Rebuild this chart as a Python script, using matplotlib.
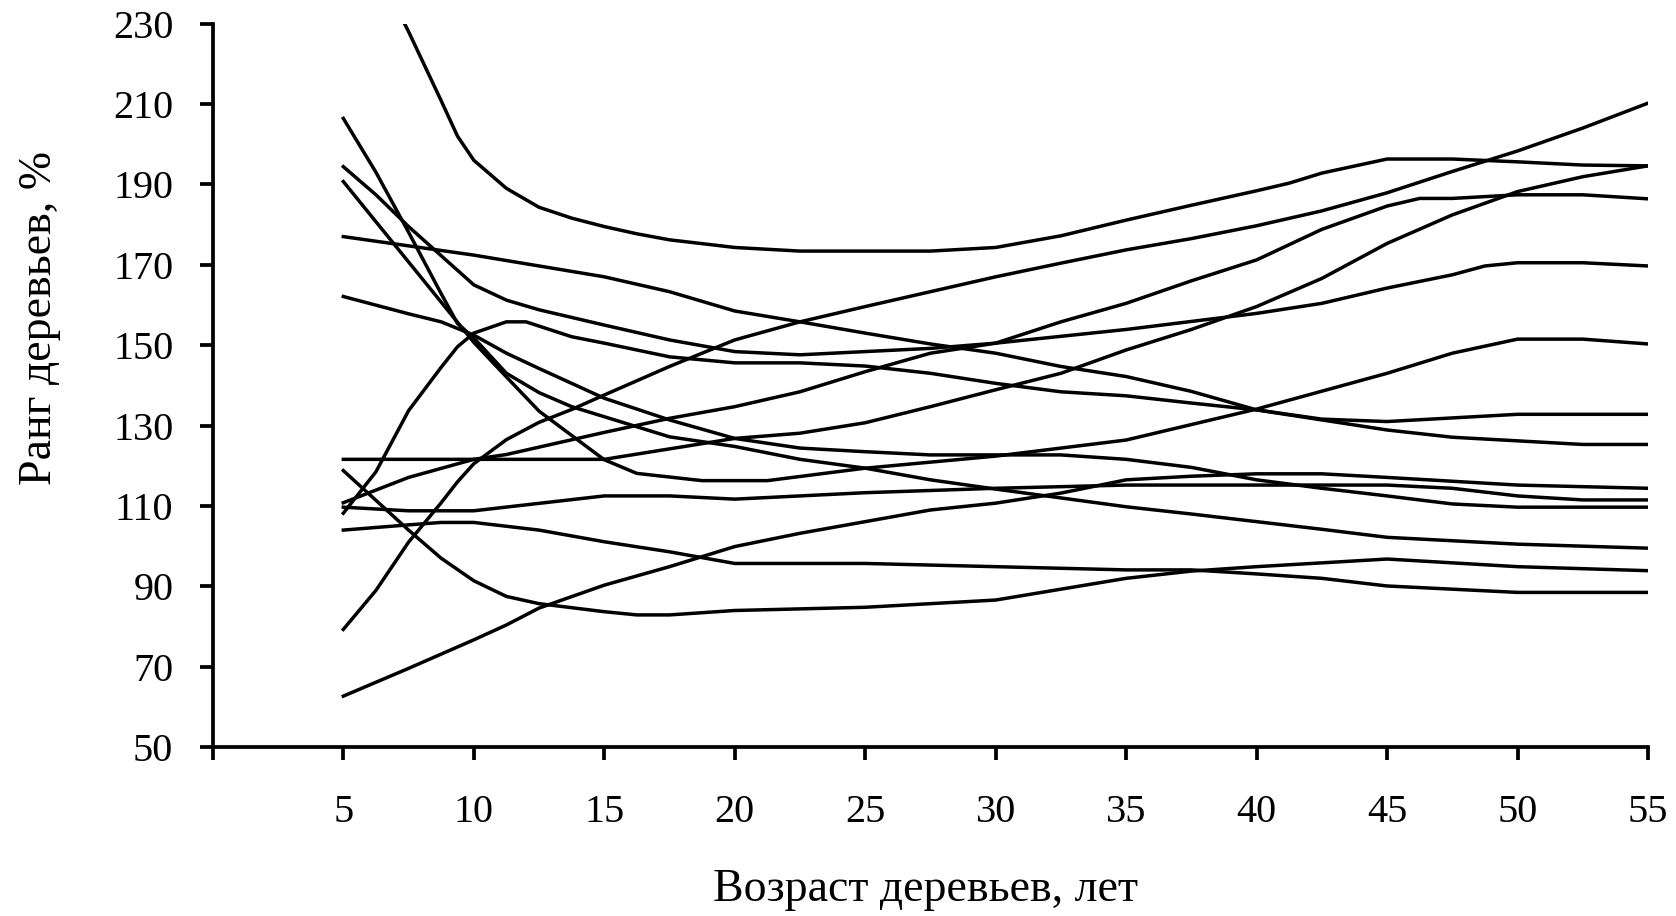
import matplotlib
matplotlib.use('Agg')
import matplotlib.pyplot as plt

plt.rcParams['font.family'] = ['Liberation Serif', 'DejaVu Serif']

# ages (years) and rank values (%) for each tree
t_x = [5, 6.25, 7.5, 8.75, 9.375, 10, 11.25, 12.5, 13.75, 15, 16.25, 17.5, 20, 22.5, 25, 27.5, 30,
       32.5, 35, 37.5, 40, 41.25, 42.5, 45, 47.5, 50, 52.5, 55]
t_y = [260, 244, 228, 210.8, 202, 196, 189, 184.3, 181.6, 179.5, 177.7, 176.2, 174.3, 173.4, 173.4,
       173.4, 174.3, 177.2, 181.1, 184.8, 188.4, 190.3, 192.8, 196.3, 196.3, 195.6, 194.8, 194.6]

a_x = [5, 6.25, 7.5, 8.75, 9.375, 10, 11.25, 12.5, 13.75, 15, 17.5, 20, 22.5, 25, 27.5, 30, 35,
       37.5, 40, 42.5, 45, 50, 55]
a_y = [206.4, 193.0, 178.1, 162.8, 155.4, 151.8, 143.0, 138.2, 134.7, 132.2, 127.2, 124.8, 121.6,
       119.4, 116.5, 114.2, 109.8, 108.0, 106.1, 104.2, 102.2, 100.5, 99.5]

b_x = [5, 7.5, 10, 11.25, 12.5, 15, 16.25, 18.75, 21.25, 25, 30, 35, 40, 45, 47.5, 50, 52.5, 55]
b_y = [190.7, 170.7, 150.7, 142.1, 133.6, 121.5, 118.1, 116.3, 116.3, 119.4, 122.4, 126.4, 134.1,
       143.0, 148.0, 151.5, 151.5, 150.3]

c_x = [5, 6.25, 7.5, 10, 11.25, 12.5, 15, 17.5, 20, 22.5, 25, 27.5, 30, 35, 40, 42.5, 45, 47.5,
       48.75, 50, 52.5, 55]
c_y = [194.4, 187.4, 179.5, 165.0, 161.2, 158.8, 155.0, 151.3, 148.4, 147.6, 148.4, 149.2, 150.5,
       153.9, 157.9, 160.4, 164.2, 167.5, 169.7, 170.5, 170.5, 169.7]

d_x = [5, 10, 15, 17.5, 20, 22.5, 25, 27.5, 30, 32.5, 35, 37.5, 40, 42.5, 45, 50, 55]
d_y = [177.0, 172.4, 167.0, 163.3, 158.5, 155.8, 153.0, 150.3, 148.0, 144.7, 142.2, 138.5, 133.9,
       131.6, 131.0, 132.8, 132.8]

e_x = [5, 7.5, 8.75, 10, 11.25, 12.5, 13.75, 15, 17.5, 20, 22.5, 25, 27.5, 30, 32.5, 35, 37.5, 40,
       42.5, 45, 47.5, 50, 55]
e_y = [162.1, 157.8, 155.8, 152.5, 148.0, 144.2, 140.5, 136.8, 131.4, 126.8, 124.4, 123.5, 122.7,
       122.7, 122.7, 121.6, 119.6, 116.5, 114.4, 112.5, 110.5, 109.7, 109.7]

f_x = [5, 15, 17.5, 20, 22.5, 25, 27.5, 30, 32.5, 35, 37.5, 40, 42.5, 45, 47.5, 50, 52.5, 55]
f_y = [121.6, 121.6, 124.2, 126.8, 128.1, 130.7, 134.7, 138.9, 143.0, 148.8, 153.9, 159.6, 166.6,
       175.3, 182.4, 188.2, 191.9, 194.6]

g_x = [5, 7.5, 8.75, 10, 11.25, 12.5, 15, 16.25, 17.5, 20, 25, 30, 35, 37.5, 40, 45, 50, 55]
g_y = [118.8, 104.0, 97.0, 91.4, 87.5, 85.7, 83.7, 82.9, 82.9, 84.0, 84.8, 86.6, 92.0, 93.8, 94.9,
       96.8, 94.9, 93.9]

h_x = [5, 7.5, 10, 11.25, 15, 17.5, 20, 22.5, 25, 27.5, 30, 32.5, 35, 37.5, 40, 42.5, 45, 46.25,
       47.5, 50, 52.5, 55]
h_y = [110.8, 117.1, 121.6, 122.8, 128.3, 131.8, 134.7, 138.4, 143.4, 148.0, 150.5, 155.8, 160.4,
       166.0, 171.2, 178.8, 184.6, 186.5, 186.5, 187.4, 187.4, 186.4]

i_x = [5, 7.5, 10, 15, 17.5, 20, 25, 30, 35, 37.5, 40, 45, 47.5, 50, 52.5, 55]
i_y = [109.7, 108.8, 108.8, 112.5, 112.5, 111.7, 113.3, 114.4, 115.2, 115.2, 115.2, 115.2, 114.4,
       112.5, 111.5, 111.5]

j_x = [5, 6.25, 7.5, 8.75, 9.375, 10, 11.25, 12, 13.75, 15, 17.5, 20, 22.5, 25, 27.5, 30, 32.5,
       35, 37.5, 40, 45, 47.5, 50, 52.5, 55]
j_y = [108.2, 118.5, 133.7, 144.5, 149.6, 153.0, 155.8, 155.8, 152.1, 150.5, 147.1, 145.6, 145.6,
       144.8, 143.0, 140.5, 138.4, 137.4, 135.6, 133.9, 128.9, 127.1, 126.2, 125.3, 125.3]

k_x = [5, 7.5, 8.75, 10, 12.5, 15, 17.5, 20, 25, 30, 35, 37.5, 40, 42.5, 45, 50, 55]
k_y = [104.0, 105.3, 105.9, 105.9, 104.0, 101.1, 98.6, 95.7, 95.7, 94.9, 94.1, 94.1, 93.1, 92.0,
       90.1, 88.5, 88.5]

m_x = [5, 6.25, 7.5, 8.75, 9.375, 10, 11.25, 12.5, 13.75, 15, 17.5, 20, 22.5, 25, 27.5, 30, 32.5,
       35, 37.5, 40, 42.5, 45, 47.5, 50, 52.5, 55]
m_y = [79.3, 89.0, 101.0, 110.8, 116.0, 120.5, 126.5, 130.8, 134.0, 137.6, 144.7, 151.3, 155.8,
       159.6, 163.3, 167.0, 170.4, 173.7, 176.5, 179.7, 183.4, 187.9, 193.2, 198.3, 204.0, 210.2]

n_x = [5, 7.5, 10, 11.25, 12.5, 15, 17.5, 20, 22.5, 25, 27.5, 30, 32.5, 35, 37.5, 40, 42.5, 45,
       50, 55]
n_y = [62.7, 69.6, 76.7, 80.4, 84.6, 90.3, 94.9, 99.9, 103.2, 106.1, 109.0, 110.7, 113.2, 116.5,
       117.4, 118.0, 118.0, 117.1, 115.2, 114.4]

series = [(t_x, t_y), (a_x, a_y), (b_x, b_y), (c_x, c_y), (d_x, d_y), (e_x, e_y), (f_x, f_y),
          (g_x, g_y), (h_x, h_y), (i_x, i_y), (j_x, j_y), (k_x, k_y), (m_x, m_y), (n_x, n_y)]

x_ticks = [0, 5, 10, 15, 20, 25, 30, 35, 40, 45, 50, 55]
x_labels = ['', '5', '10', '15', '20', '25', '30', '35', '40', '45', '50', '55']
y_ticks = [50, 70, 90, 110, 130, 150, 170, 190, 210, 230]

fig = plt.figure(figsize=(16.76, 9.16), dpi=100)
ax = fig.add_axes([0.127, 0.1843, 0.8563, 0.79])

for xs, ys in series:
    ax.plot(xs, ys, color='black', lw=2.5, solid_joinstyle='miter')

ax.set_xlim(0, 55)
ax.set_ylim(50, 230)
ax.set_xticks(x_ticks)
ax.set_xticklabels(x_labels)
ax.set_yticks(y_ticks)

for s in ['top', 'right']:
    ax.spines[s].set_visible(False)
for s in ['left', 'bottom']:
    ax.spines[s].set_linewidth(2.7)

ax.tick_params(axis='both', direction='out', length=9.5, width=2.7, labelsize=29)
ax.tick_params(axis='y', pad=19)
ax.tick_params(axis='x', pad=24)

fig.text(0.552, 1 - 890 / 916, 'Возраст деревьев, лет', ha='center', va='center', fontsize=33)
fig.text(0.024, 1 - 318 / 916, 'Ранг деревьев, %', ha='center', va='center',
         rotation=90, fontsize=33)

fig.savefig('out.png', dpi=100)
